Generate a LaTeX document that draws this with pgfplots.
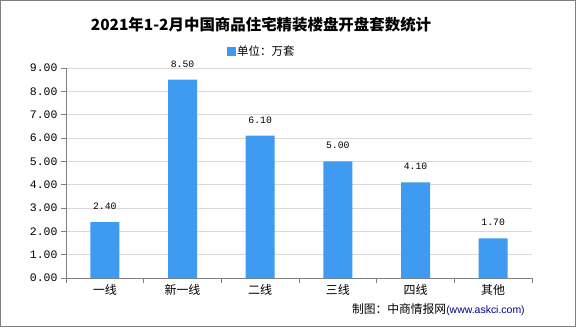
\documentclass[border=0pt]{standalone}
\usepackage{pgfplots}
\pgfplotsset{compat=1.18}
\usepackage{fontspec}
\setmainfont{Liberation Mono}
\newfontfamily\cjk{Noto Sans CJK SC}
\definecolor{barblue}{RGB}{62,155,241}
\definecolor{axgray}{RGB}{128,128,128}
\definecolor{gridgray}{RGB}{217,217,217}
\begin{document}
\begin{tikzpicture}[x=1bp,y=1bp]
\draw[axgray, line width=1bp] (0.5,0.5) rectangle (575.5,326.5);
\node[font=\cjk\bfseries\fontsize{15.5}{18}\selectfont] at (261,302) {2021年1-2月中国商品住宅精装楼盘开盘套数统计};
\fill[barblue] (227,271) rectangle (236,280);
\node[anchor=west, font=\cjk\fontsize{11.5}{13}\selectfont, inner sep=0pt] at (237,275.5) {单位：万套};
\begin{axis}[
  at={(66bp,49bp)}, anchor=south west,
  scale only axis, width=466bp, height=210bp,
  xmin=-0.5, xmax=5.5, ymin=0, ymax=9,
  ybar, bar width=29bp,
  xtick={-0.5,0.5,1.5,2.5,3.5,4.5,5.5},
  xticklabels={},
  extra x ticks={0,1,2,3,4,5},
  extra x tick labels={一线,新一线,二线,三线,四线,其他},
  extra x tick style={major tick length=0pt, grid=none},
  xticklabel style={font=\cjk\fontsize{12}{14}\selectfont, yshift=-3bp},
  ytick={0,1,...,9},
  yticklabel={\pgfmathprintnumber[fixed,fixed zerofill,precision=2]{\tick}},
  yticklabel style={font=\fontsize{11.5}{13}\selectfont},
  /pgf/number format/assume math mode=true,
  ymajorgrids, grid style={gridgray, line width=0.8bp},
  tick style={axgray, line width=0.8bp},
  major tick length=5bp,
  tick align=outside,
  axis line style={axgray, line width=0.8bp},
  axis x line*=bottom, axis y line*=left,
  nodes near coords={\pgfmathprintnumber[fixed,fixed zerofill,precision=2]{\pgfplotspointmeta}},
  nodes near coords style={font=\fontsize{9.8}{11}\selectfont, yshift=9bp, text=black},
  enlarge x limits=false,
]
\addplot[fill=barblue, draw=none, bar shift=0pt] coordinates {(0,2.40) (1,8.50) (2,6.10) (3,5.00) (4,4.10) (5,1.70)};
\end{axis}
\node[anchor=west, inner sep=0pt] at (352,17) {{\cjk\fontsize{11.8}{13}\selectfont 制图：中商情报网}\textcolor{blue!55!black}{\fontspec{Liberation Sans}\fontsize{10.5}{12}\selectfont(www.askci.com)}};
\end{tikzpicture}
\end{document}
